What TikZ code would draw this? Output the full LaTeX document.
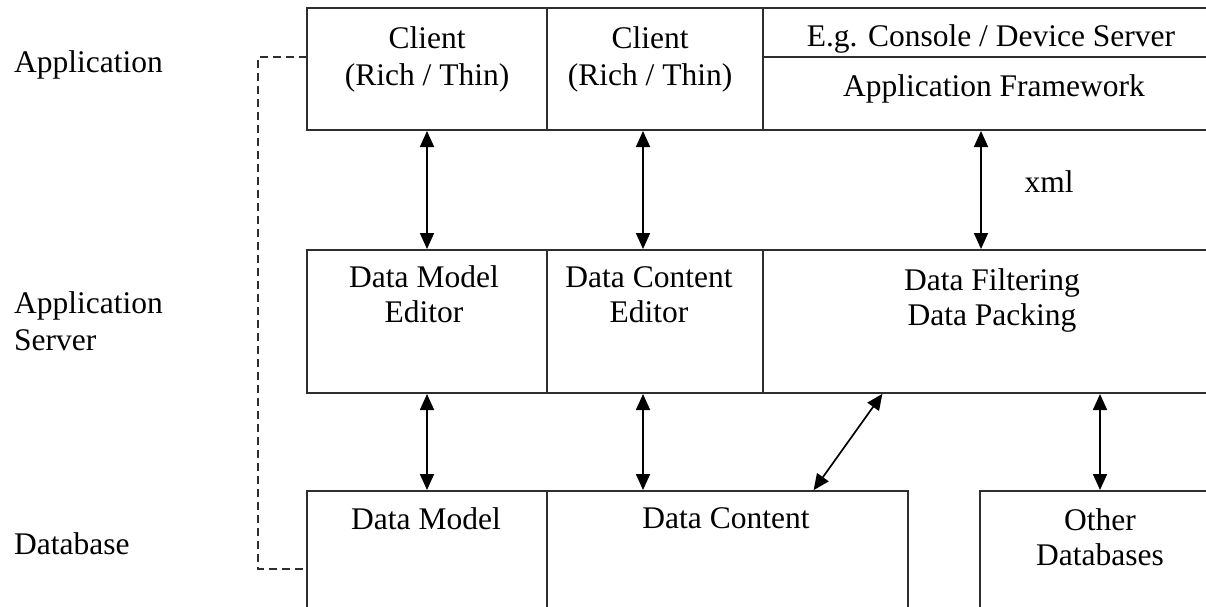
\documentclass[tikz,border=0pt]{standalone}
\usepackage{fontspec}
\setmainfont{Liberation Serif}
\usetikzlibrary{arrows.meta}
\definecolor{linec}{HTML}{2E2E2E}
\begin{document}
\begin{tikzpicture}[x=1pt,y=-1pt,
  font=\fontsize{31.5}{37}\selectfont,
  cell/.style={draw=linec,line width=1.7pt,inner sep=0pt,outer sep=0pt,anchor=north west},
  lbl/.style={anchor=base,inner sep=0pt},
  side/.style={anchor=base west,inner sep=0pt},
  biarrow/.style={line width=1.7pt,draw=black,{Triangle[length=16pt,width=14pt]}-{Triangle[length=16pt,width=14pt]},shorten <=1pt,shorten >=1pt},
  link/.style={draw=linec,line width=1.7pt,dash pattern=on 8pt off 5pt}]
\useasboundingbox (0,0) rectangle (1206,607);
\clip (0,0) rectangle (1206,607);

% tier labels on the left
\node[side] (tapp)  at (14,73)  {Application};
\node[side] (tsrv1) at (14,313) {Application};
\node[side] (tsrv2) at (14,350) {Server};
\node[side] (tdb)   at (14,554) {Database};

% application tier
\node[cell,minimum width=240pt,minimum height=122pt] (c1) at (307,8) {};
\node[cell,minimum width=216pt,minimum height=122pt] (c2) at (547,8) {};
\node[cell,minimum width=452pt,minimum height=122pt] (c3) at (763,8) {};
\draw[draw=linec,line width=1.7pt] ([yshift=-49pt]c3.north west) -- ([yshift=-49pt]c3.north east);

% application server tier
\node[cell,minimum width=240pt,minimum height=143pt] (m1) at (307,250) {};
\node[cell,minimum width=216pt,minimum height=143pt] (m2) at (547,250) {};
\node[cell,minimum width=452pt,minimum height=143pt] (m3) at (763,250) {};

% database tier
\node[cell,minimum width=240pt,minimum height=140pt] (b1) at (307,491) {};
\node[cell,minimum width=361pt,minimum height=140pt] (b2) at (547,491) {};
\node[cell,minimum width=235pt,minimum height=140pt] (b3) at (980,491) {};

% texts
\node[lbl] (c1a) at (427,49) {Client};
\node[lbl] (c1b) at (427,86) {(Rich / Thin)};
\node[lbl] (c2a) at (650,49) {Client};
\node[lbl] (c2b) at (650,86) {(Rich / Thin)};
\node[lbl] (c3a) at (991,47) {E.g. Console / Device Server};
\node[lbl] (c3b) at (994,97) {Application Framework};

\node[lbl] (m1a) at (424,287) {Data Model};
\node[lbl] (m1b) at (424,322) {Editor};
\node[lbl] (m2a) at (649,287) {Data Content};
\node[lbl] (m2b) at (649,322) {Editor};
\node[lbl] (m3a) at (992,290) {Data Filtering};
\node[lbl] (m3b) at (992,325) {Data Packing};

\node[lbl] (b1a) at (426,529) {Data Model};
\node[lbl] (b2a) at (726,528) {Data Content};
\node[lbl] (b3a) at (1100,530) {Other};
\node[lbl] (b3b) at (1100,565) {Databases};

\node[lbl] (xml) at (1049,192) {xml};

% connectors between tiers
\draw[biarrow] (c1.south) -- (m1.north);
\draw[biarrow] ([xshift=-12pt]c2.south) -- ([xshift=-12pt]m2.north);
\draw[biarrow] ([xshift=-8pt]c3.south) -- ([xshift=-8pt]m3.north);
\draw[biarrow] (m1.south) -- (b1.north);
\draw[biarrow] ([xshift=-12pt]m2.south) -- ([xshift=-12pt]m2.south |- b2.north);
\draw[biarrow] ([xshift=-106pt]m3.south) -- ([xshift=85.5pt]b2.north);
\draw[biarrow] ([xshift=111pt]m3.south) -- ([xshift=111pt]m3.south |- b3.north);

% dashed bracket spanning the tiers
\draw[link] ([yshift=12pt]c1.west) -- ++(-49,0) |- ([yshift=-8pt]b1.west);
\end{tikzpicture}
\end{document}
